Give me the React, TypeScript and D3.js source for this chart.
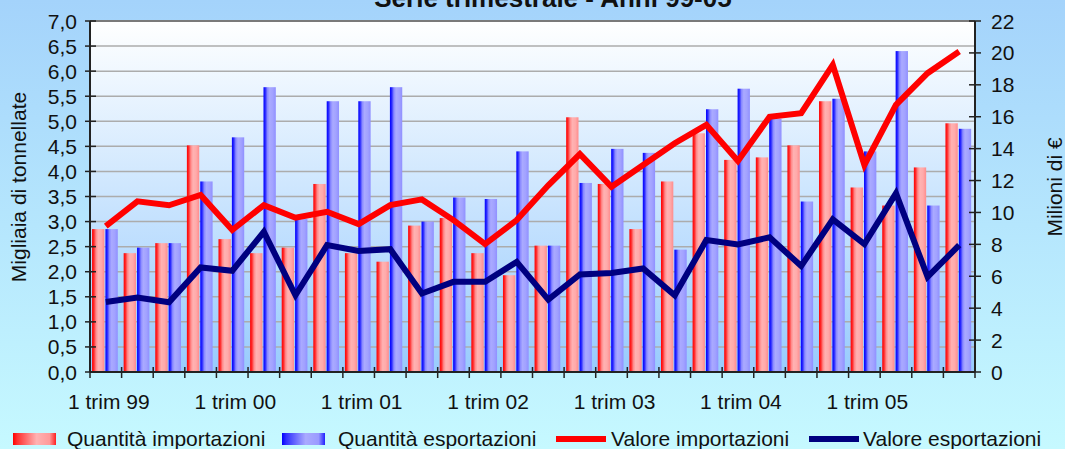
import React from "react";
import * as d3 from "d3";

const years = ["99", "00", "01", "02", "03", "04", "05"];
const categories: string[] = years.flatMap((y) => [1, 2, 3, 4].map((q) => `${q} trim ${y}`));
const tickLabelEvery = 4;

const impQty = [2.85, 2.37, 2.57, 4.52, 2.65, 2.37, 2.48, 3.75, 2.37, 2.2, 2.92, 3.07, 2.37, 1.93, 2.52, 5.08, 3.75, 2.85, 3.8, 4.76, 4.23, 4.28, 4.52, 5.4, 3.68, 3.32, 4.08, 4.96];
const expQty = [2.85, 2.48, 2.57, 3.8, 4.68, 5.68, 3.05, 5.4, 5.4, 5.68, 3.0, 3.48, 3.45, 4.4, 2.52, 3.77, 4.45, 4.37, 2.44, 5.24, 5.65, 5.05, 3.4, 5.45, 4.4, 6.4, 3.32, 4.85];
const impVal = [9.15, 10.7, 10.45, 11.1, 8.9, 10.46, 9.67, 10.04, 9.27, 10.46, 10.82, 9.52, 8.02, 9.52, 11.7, 13.66, 11.61, 12.97, 14.34, 15.49, 13.23, 16.0, 16.22, 19.25, 12.98, 16.74, 18.73, 20.09];
const expVal = [4.39, 4.67, 4.37, 6.55, 6.34, 8.79, 4.81, 7.95, 7.58, 7.7, 4.92, 5.65, 5.65, 6.9, 4.54, 6.11, 6.21, 6.49, 4.81, 8.27, 8.0, 8.44, 6.64, 9.57, 8.02, 11.2, 5.96, 7.95];

const leftTicks = d3.range(0, 7.01, 0.5);
const rightTicks = d3.range(0, 22.01, 2);
const seriesNames = ["Quantità importazioni", "Quantità esportazioni", "Valore importazioni", "Valore esportazioni"];
const title = "Serie trimestrale - Anni 99-05";
const leftTitle = "Migliaia di tonnellate";
const rightTitle = "Milioni di €";

const W = 1065, H = 449;
const PL = 90, PR = 975, PT = 21, PB = 372;
const FONT = "'Liberation Sans', Arial, sans-serif";

export default function App() {
  const x = d3.scaleBand<string>().domain(categories).range([PL, PR]).padding(0);
  const inner = d3.scaleBand<string>().domain(["imp", "exp"]).range([0, x.bandwidth()]).paddingInner(0.08).paddingOuter(0.22).align(0.35);
  const yL = d3.scaleLinear().domain([0, 7]).range([PB, PT]);
  const yR = d3.scaleLinear().domain([0, 22]).range([PB, PT]);
  const cx = (i: number) => (x(categories[i]) as number) + x.bandwidth() / 2;
  const line = d3.line<number>().x((_, i) => cx(i)).y((v) => yR(v)).curve(d3.curveLinear);
  const fmt = (v: number) => v.toFixed(1).replace(".", ",");

  const legendItems = [
    { type: "bar", fill: "url(#legRed)", x0: 13, tx: 67, label: seriesNames[0] },
    { type: "bar", fill: "url(#legBlue)", x0: 282, tx: 338, label: seriesNames[1] },
    { type: "line", stroke: "#ff0000", x0: 556, tx: 611, label: seriesNames[2] },
    { type: "line", stroke: "#000080", x0: 809, tx: 863, label: seriesNames[3] },
  ];

  return (
    <svg width={W} height={H} style={{ position: "absolute", left: 0, top: 0 }} fontFamily={FONT}>
      <defs>
        <linearGradient id="bg" x1="0" y1="0" x2="0" y2="1">
          <stop offset="0" stopColor="#a4d3fb" />
          <stop offset="1" stopColor="#c6f9ff" />
        </linearGradient>
        <linearGradient id="plotBg" x1="0" y1="0" x2="0" y2="1">
          <stop offset="0" stopColor="#ffffff" />
          <stop offset="1" stopColor="#98cbfd" />
        </linearGradient>
        <linearGradient id="redBar" x1="0" y1="0" x2="1" y2="0">
          <stop offset="0" stopColor="#ff0000" />
          <stop offset="0.15" stopColor="#ff2a2a" />
          <stop offset="0.32" stopColor="#ff8a8a" />
          <stop offset="0.5" stopColor="#ffb2b2" />
          <stop offset="0.75" stopColor="#ffaaaa" />
          <stop offset="1" stopColor="#ff8c8c" />
        </linearGradient>
        <linearGradient id="blueBar" x1="0" y1="0" x2="1" y2="0">
          <stop offset="0" stopColor="#0000ff" />
          <stop offset="0.15" stopColor="#2a2aff" />
          <stop offset="0.32" stopColor="#8a8aff" />
          <stop offset="0.5" stopColor="#aaaaff" />
          <stop offset="0.75" stopColor="#a2a2ff" />
          <stop offset="1" stopColor="#9090ff" />
        </linearGradient>
        <linearGradient id="legRed" x1="0" y1="0" x2="1" y2="0">
          <stop offset="0" stopColor="#ff0000" />
          <stop offset="0.1" stopColor="#ff3030" />
          <stop offset="0.55" stopColor="#ffb2b2" />
          <stop offset="0.85" stopColor="#ff9a9a" />
          <stop offset="1" stopColor="#ff2020" />
        </linearGradient>
        <linearGradient id="legBlue" x1="0" y1="0" x2="1" y2="0">
          <stop offset="0" stopColor="#0000ff" />
          <stop offset="0.1" stopColor="#3030ff" />
          <stop offset="0.55" stopColor="#aaaaff" />
          <stop offset="0.85" stopColor="#9a9aff" />
          <stop offset="1" stopColor="#2020ff" />
        </linearGradient>
      </defs>

      <rect x={0} y={0} width={W} height={H} fill="url(#bg)" />
      <rect x={PL} y={PT} width={PR - PL} height={PB - PT} fill="url(#plotBg)" />

      {leftTicks.filter((t) => t > 0 && t < 7).map((t) => (
        <line key={`g${t}`} x1={PL} x2={PR} y1={yL(t)} y2={yL(t)} stroke="#acacac" strokeWidth={1.5} />
      ))}
      <line x1={PL} x2={PR} y1={PT} y2={PT} stroke="#7a7a7a" strokeWidth={2} />

      {categories.map((c, i) => (
        <g key={c}>
          <rect x={(x(c) as number) + (inner("imp") as number)} y={yL(impQty[i])} width={inner.bandwidth()} height={PB - yL(impQty[i])} fill="url(#redBar)" />
          <rect x={(x(c) as number) + (inner("exp") as number)} y={yL(expQty[i])} width={inner.bandwidth()} height={PB - yL(expQty[i])} fill="url(#blueBar)" />
        </g>
      ))}

      <path d={line(impVal) as string} fill="none" stroke="#ff0000" strokeWidth={6} strokeLinejoin="miter" />
      <path d={line(expVal) as string} fill="none" stroke="#000080" strokeWidth={6} strokeLinejoin="miter" />

      {/* axes */}
      <line x1={PL} x2={PL} y1={PT} y2={PB} stroke="#222" strokeWidth={2} />
      <line x1={PR} x2={PR} y1={PT} y2={PB} stroke="#222" strokeWidth={2} />
      <line x1={PL} x2={PR} y1={PB} y2={PB} stroke="#222" strokeWidth={2} />
      {leftTicks.map((t) => (
        <g key={`l${t}`}>
          <line x1={PL - 5} x2={PL + 6} y1={yL(t)} y2={yL(t)} stroke="#222" strokeWidth={1.5} />
          <text x={77} y={yL(t)} dy="0.36em" textAnchor="end" fontSize={21} fill="#111">{fmt(t)}</text>
        </g>
      ))}
      {rightTicks.map((t) => (
        <g key={`r${t}`}>
          <line x1={PR - 6} x2={PR + 6} y1={yR(t)} y2={yR(t)} stroke="#222" strokeWidth={1.5} />
          <text x={991} y={yR(t)} dy="0.36em" textAnchor="start" fontSize={21} fill="#111">{t}</text>
        </g>
      ))}
      {d3.range(categories.length + 1).map((i) => {
        const xx = PL + i * x.step();
        return <line key={`xt${i}`} x1={xx} x2={xx} y1={PB - 5} y2={PB + 6} stroke="#222" strokeWidth={1.5} />;
      })}
      {categories.map((c, i) =>
        i % tickLabelEvery === 0 ? (
          <text key={`xl${c}`} x={cx(i) + 3} y={409} textAnchor="middle" fontSize={21} fill="#111">{c}</text>
        ) : null
      )}

      <text x={553} y={7} textAnchor="middle" fontSize={26} fontWeight="bold" fill="#111">{title}</text>
      <text transform={`translate(26,187) rotate(-90)`} textAnchor="middle" fontSize={21} fill="#111">{leftTitle}</text>
      <text transform={`translate(1062,187) rotate(-90)`} textAnchor="middle" fontSize={21} fill="#111">{rightTitle}</text>

      {legendItems.map((l) => (
        <g key={l.label}>
          {l.type === "bar" ? (
            <rect x={l.x0} y={433} width={43} height={12} fill={l.fill} />
          ) : (
            <line x1={l.x0} x2={l.x0 + 50} y1={439} y2={439} stroke={l.stroke} strokeWidth={6} />
          )}
          <text x={l.tx} y={446} fontSize={21} fill="#111">{l.label}</text>
        </g>
      ))}
    </svg>
  );
}
